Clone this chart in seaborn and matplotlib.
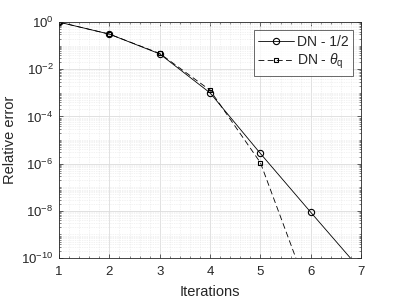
import numpy as np
import pandas as pd
import matplotlib
matplotlib.use("Agg")
import matplotlib.pyplot as plt
import matplotlib.ticker as mticker
import seaborn as sns

# values
iters_half = [1, 2, 3, 4, 5, 6, 7]
err_half = [1.0, 0.31, 0.045, 1.0e-3, 2.7e-6, 8.7e-9, 3e-11]
iters_theta = [1, 2, 3, 4, 5, 6]
err_theta = [1.0, 0.31, 0.047, 1.3e-3, 1.1e-6, 2e-12]
labels = ["DN - 1/2", r"DN - $\theta_{\rm q}$"]

df = pd.concat([
    pd.DataFrame({"it": iters_half, "err": err_half, "method": labels[0]}),
    pd.DataFrame({"it": iters_theta, "err": err_theta, "method": labels[1]}),
])

sns.set_style("white")
plt.rcParams["font.family"] = ["Liberation Sans", "DejaVu Sans"]
plt.rcParams["mathtext.fontset"] = "custom"
plt.rcParams["mathtext.rm"] = "Liberation Sans"
plt.rcParams["mathtext.it"] = "Liberation Sans:italic"

fig = plt.figure(figsize=(3.99, 2.99), dpi=100)
ax = fig.add_axes([0.148, 0.137, 0.757, 0.789])

sns.lineplot(data=df, x="it", y="err", hue="method", style="method",
             palette=["black", "black"], dashes=[(None, None), (7, 4)],
             markers=["o", "s"], markersize=4.5, markerfacecolor="none",
             markeredgecolor="black", markeredgewidth=0.8, linewidth=0.6,
             ax=ax)
# square markers are smaller
for ln in ax.get_lines():
    if ln.get_marker() == "s":
        ln.set_markersize(3.3)

ax.set_yscale("log")
ax.set_xlim(1, 7)
ax.set_ylim(1e-10, 1e0)
ax.set_xticks(range(1, 8))
ax.yaxis.set_major_locator(mticker.FixedLocator([10.0 ** k for k in range(-10, 1, 2)]))
ax.yaxis.set_major_formatter(mticker.LogFormatterMathtext())
minor_y = [m * 10.0 ** k for k in range(-10, 0) for m in range(1, 10) if not (m == 1 and k % 2 == 0)]
ax.yaxis.set_minor_locator(mticker.FixedLocator(minor_y))
ax.yaxis.set_minor_formatter(mticker.NullFormatter())
ax.xaxis.set_minor_locator(mticker.MultipleLocator(0.2))

ax.grid(True, which="major", color="#dcdcdc", linewidth=0.6)
ax.grid(True, which="minor", color="#e6e6e6", linestyle=(0, (1, 1.5)), linewidth=0.5)
ax.set_axisbelow(True)

ax.tick_params(which="both", direction="in", colors="#262626", labelsize=9.5,
               top=True, right=True, left=True, bottom=True)
ax.tick_params(which="major", length=3, width=0.5)
ax.tick_params(which="minor", length=1.5, width=0.4)
ax.tick_params(axis="x", which="major", pad=6)
ax.tick_params(axis="y", which="major", pad=4)
for s in ax.spines.values():
    s.set_color("#262626")
    s.set_linewidth(0.6)

ax.set_xlabel("Iterations", fontsize=10.5, color="#262626", labelpad=5)
ax.set_ylabel("Relative error", fontsize=10.5, color="#262626", labelpad=3)

leg = ax.legend(loc="upper right", fontsize=10, frameon=True, fancybox=False,
                edgecolor="#262626", handlelength=2.6, handletextpad=0.2,
                borderpad=0.3, labelspacing=0.25, borderaxespad=0.6)
leg.get_frame().set_linewidth(0.6)
for t in leg.get_texts():
    t.set_color("#262626")

fig.savefig("out.png", dpi=100)
